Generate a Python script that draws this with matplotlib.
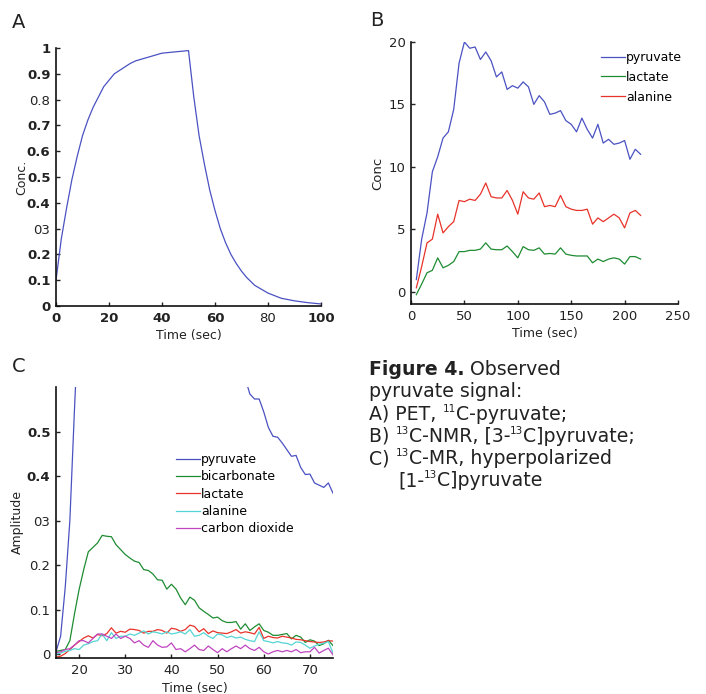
import numpy as np
import matplotlib
matplotlib.use('Agg')
import matplotlib.pyplot as plt

# ---- panel A: PET, 11C-pyruvate
t_a = [0, 2, 4, 6, 8, 10, 12, 14, 16, 18, 20, 22, 25, 28, 30, 35, 40, 45, 50,
       52, 54, 56, 58, 60, 62, 64, 66, 68, 70, 72, 75, 80, 85, 90, 95, 100]
conc_a = [0.1, 0.26, 0.38, 0.49, 0.58, 0.66, 0.72, 0.77, 0.81, 0.85, 0.875, 0.9,
          0.92, 0.94, 0.95, 0.965, 0.98, 0.985, 0.99,
          0.81, 0.66, 0.55, 0.45, 0.37, 0.30, 0.245, 0.2, 0.165, 0.135, 0.11,
          0.08, 0.05, 0.03, 0.02, 0.013, 0.008]

# ---- panel B: 13C-NMR
t_b = list(range(5, 216, 5))
pyr_b = [0.96, 4.2, 6.3, 9.6, 10.8, 12.3, 12.8, 14.6, 18.3, 20.0, 19.5, 19.6,
         18.6, 19.2, 18.5, 17.2, 17.6, 16.2, 16.5, 16.3, 16.8, 16.4, 15.0, 15.7,
         15.2, 14.2, 14.3, 14.5, 13.7, 13.4, 12.8, 13.9, 13.0, 12.3, 13.4, 11.9,
         12.2, 11.8, 11.9, 12.1, 10.6, 11.4, 11.0]
lac_b = [-0.25, 0.6, 1.5, 1.7, 2.7, 1.9, 2.1, 2.4, 3.2, 3.2, 3.3, 3.3, 3.4, 3.9,
         3.4, 3.35, 3.35, 3.65, 3.2, 2.7, 3.6, 3.35, 3.3, 3.5, 3.0, 3.05, 3.0,
         3.5, 3.0, 2.9, 2.85, 2.85, 2.85, 2.3, 2.6, 2.4, 2.6, 2.7, 2.6, 2.2, 2.8,
         2.8, 2.6]
ala_b = [0.3, 2.0, 3.9, 4.2, 6.2, 4.7, 5.2, 5.6, 7.3, 7.2, 7.4, 7.3, 7.8, 8.7,
         7.6, 7.5, 7.5, 8.1, 7.3, 6.2, 8.0, 7.5, 7.4, 7.9, 6.8, 6.9, 6.8, 7.7,
         6.8, 6.6, 6.5, 6.5, 6.6, 5.4, 5.9, 5.6, 5.9, 6.2, 5.9, 5.1, 6.3, 6.5,
         6.1]

# ---- panel C: hyperpolarized 13C-MR
t_c = list(range(15, 76))
pyr_c = [0.005, 0.04, 0.15, 0.3, 0.55, 0.78, 1.0, 1.2, 1.35, 1.45, 1.5, 1.48,
         1.45, 1.4, 1.35, 1.3, 1.26, 1.22, 1.18, 1.14, 1.1, 1.06, 1.02, 0.99,
         0.96, 0.93, 0.9, 0.88, 0.85, 0.83, 0.81, 0.79, 0.77, 0.75, 0.73, 0.71,
         0.69, 0.67, 0.65, 0.64, 0.63, 0.62, 0.585, 0.574, 0.574, 0.545, 0.51,
         0.49, 0.488, 0.475, 0.46, 0.445, 0.447, 0.42, 0.404, 0.405, 0.385,
         0.38, 0.375, 0.385, 0.362]
bic_c = [0.006, 0.008, 0.01, 0.03, 0.09, 0.145, 0.19, 0.23, 0.24, 0.25, 0.267,
         0.265, 0.264, 0.246, 0.235, 0.224, 0.216, 0.209, 0.206, 0.19, 0.188,
         0.18, 0.167, 0.166, 0.146, 0.157, 0.146, 0.126, 0.111, 0.128, 0.121,
         0.104, 0.096, 0.089, 0.081, 0.083, 0.075, 0.071, 0.071, 0.073, 0.056,
         0.068, 0.053, 0.061, 0.068, 0.053, 0.049, 0.042, 0.042, 0.044, 0.046,
         0.034, 0.042, 0.038, 0.026, 0.032, 0.029, 0.019, 0.023, 0.031, 0.019]
lac_c = [-0.007, -0.005, 0.001, 0.01, 0.02, 0.028, 0.036, 0.041, 0.036, 0.044,
         0.041, 0.046, 0.059, 0.047, 0.051, 0.049, 0.056, 0.055, 0.053, 0.047,
         0.051, 0.051, 0.055, 0.053, 0.047, 0.058, 0.056, 0.051, 0.055, 0.065,
         0.062, 0.05, 0.057, 0.046, 0.052, 0.048, 0.047, 0.046, 0.05, 0.055,
         0.047, 0.05, 0.048, 0.045, 0.06, 0.035, 0.04, 0.037, 0.036, 0.04,
         0.038, 0.036, 0.033, 0.032, 0.03, 0.028, 0.027, 0.026, 0.027, 0.03,
         0.029]
ala_c = [0.0, 0.002, 0.006, 0.008, 0.012, 0.01, 0.02, 0.023, 0.028, 0.03, 0.045,
         0.03, 0.048, 0.035, 0.04, 0.04, 0.045, 0.042, 0.047, 0.052, 0.045,
         0.05, 0.048, 0.045, 0.05, 0.045, 0.047, 0.05, 0.045, 0.055, 0.04,
         0.042, 0.048, 0.04, 0.035, 0.045, 0.043, 0.037, 0.04, 0.036, 0.038,
         0.033, 0.03, 0.028, 0.05, 0.03, 0.028, 0.025, 0.028, 0.025, 0.024,
         0.02, 0.027, 0.026, 0.02, 0.013, 0.018, 0.022, 0.024, 0.028, 0.002]
co2_c = [0.003, 0.005, 0.01, 0.012, 0.02, 0.03, 0.03, 0.025, 0.035, 0.045,
         0.045, 0.04, 0.035, 0.045, 0.035, 0.04, 0.035, 0.025, 0.03, 0.02,
         0.015, 0.03, 0.02, 0.015, 0.016, 0.025, 0.01, 0.012, 0.005, 0.012,
         0.02, 0.01, 0.008, 0.018, 0.01, 0.003, 0.012, 0.005, 0.012, 0.018,
         0.012, 0.02, 0.012, 0.008, 0.015, 0.005, 0.0, 0.005, 0.008, 0.005,
         0.008, 0.005, 0.01, 0.003, 0.005, 0.005, 0.015, 0.002, 0.008, 0.013,
         -0.002]

# caption lines: (text, is_superscript, is_bold) pieces
caption = [
    [('Figure 4.', 0, 1), (' Observed', 0, 0)],
    [('pyruvate signal:', 0, 0)],
    [('A) PET, ', 0, 0), ('11', 1, 0), ('C-pyruvate;', 0, 0)],
    [('B) ', 0, 0), ('13', 1, 0), ('C-NMR, [3-', 0, 0), ('13', 1, 0),
     ('C]pyruvate;', 0, 0)],
    [('C) ', 0, 0), ('13', 1, 0), ('C-MR, hyperpolarized', 0, 0)],
    [('[1-', 0, 0), ('13', 1, 0), ('C]pyruvate', 0, 0)],
]

BLUE = '#4a52c2'
GREEN = '#1e8c32'
RED = '#e8332a'
CYAN = '#55d4d4'
MAGENTA = '#c045c0'
TXT = '#222222'

plt.rcParams['font.family'] = ['DejaVu Sans']

fig = plt.figure(figsize=(7.06, 6.94), dpi=100)
W, H = 706, 694


def style(ax):
    for s in ['top', 'right']:
        ax.spines[s].set_visible(False)
    for s in ['left', 'bottom']:
        ax.spines[s].set_linewidth(1.2)
        ax.spines[s].set_color('#111111')
    ax.tick_params(direction='in', length=3, width=1, labelsize=9.5,
                   colors=TXT, pad=4)


# ---------------- A
axA = fig.add_axes([56 / W, 1 - 306 / H, 265 / W, 258 / H])
axA.plot(t_a, conc_a, color=BLUE, lw=0.9)
axA.set_xlim(0, 100)
axA.set_ylim(0, 1)
axA.set_xticks([0, 20, 40, 60, 80, 100])
axA.set_yticks(np.arange(0, 1.01, 0.1))
axA.set_yticklabels(['0', '0.1', '0.2', '03', '0.4', '0.5', '0.6', '0.7', '0.8',
                     '0.9', '1'])
style(axA)
for lab in axA.get_yticklabels():
    if lab.get_text() not in ('0.8', '03'):
        lab.set_fontweight('bold')
for lab in axA.get_xticklabels():
    if lab.get_text() != '80':
        lab.set_fontweight('bold')
axA.set_xlabel('Time (sec)', fontsize=9, color=TXT, labelpad=3)
axA.set_ylabel('Conc.', fontsize=9, color=TXT, labelpad=-1)

# ---------------- B
axB = fig.add_axes([411 / W, 1 - 304 / H, 267 / W, 262 / H])
axB.plot(t_b, pyr_b, color=BLUE, lw=0.9, label='pyruvate')
axB.plot(t_b, lac_b, color=GREEN, lw=0.9, label='lactate')
axB.plot(t_b, ala_b, color=RED, lw=0.9, label='alanine')
axB.set_xlim(0, 250)
axB.set_ylim(-1, 20)
axB.set_xticks([0, 50, 100, 150, 200, 250])
axB.set_yticks([0, 5, 10, 15, 20])
style(axB)
axB.set_xlabel('Time (sec)', fontsize=9, color=TXT, labelpad=3)
axB.set_ylabel('Conc', fontsize=9.5, color=TXT, labelpad=3)
axB.legend(loc='upper right', bbox_to_anchor=(1.035, 0.985), frameon=False,
           fontsize=9, handlelength=1.9, handletextpad=0.1, labelspacing=0.55,
           borderaxespad=0)

# ---------------- C
axC = fig.add_axes([56 / W, 1 - 658 / H, 277 / W, 271 / H])
axC.plot(t_c, pyr_c, color=BLUE, lw=0.9, label='pyruvate')
axC.plot(t_c, bic_c, color=GREEN, lw=0.9, label='bicarbonate')
axC.plot(t_c, lac_c, color=RED, lw=0.9, label='lactate')
axC.plot(t_c, ala_c, color=CYAN, lw=0.9, label='alanine')
axC.plot(t_c, co2_c, color=MAGENTA, lw=0.9, label='carbon dioxide')
axC.set_xlim(15, 75)
axC.set_ylim(-0.009, 0.601)
axC.set_xticks([20, 30, 40, 50, 60, 70])
axC.set_yticks([0, 0.1, 0.2, 0.3, 0.4, 0.5])
axC.set_yticklabels(['0', '0.1', '0.2', '03', '0.4', '0.5'])
style(axC)
for lab in axC.get_yticklabels():
    if lab.get_text() in ('0.4', '0.5'):
        lab.set_fontweight('bold')
axC.set_xlabel('Time (sec)', fontsize=9, color=TXT, labelpad=4)
axC.set_ylabel('Amplitude', fontsize=9, color=TXT, labelpad=2)
axC.legend(loc='upper left', bbox_to_anchor=(0.415, 0.775), frameon=False,
           fontsize=9, handlelength=1.9, handletextpad=0.1, labelspacing=0.35,
           borderaxespad=0)

# panel letters
fig.text(12 / W, 1 - 22 / H, 'A', fontsize=14, color=TXT, va='center')
fig.text(370 / W, 1 - 20 / H, 'B', fontsize=14, color=TXT, va='center')
fig.text(12 / W, 1 - 366 / H, 'C', fontsize=14, color=TXT, va='center')

# caption, drawn piece by piece so the superscripts can be small
renderer = fig.canvas.get_renderer()
fs = 13.6
for i, pieces in enumerate(caption):
    x = 398 if i == 5 else 369
    y = 370 + i * 22.3 + 5          # baseline in pixels from top
    for txt, is_sup, is_bold in pieces:
        size = fs * 0.55 if is_sup else fs
        yy = y - 8 if is_sup else y
        t = fig.text(x / W, 1 - yy / H, txt, fontsize=size, color=TXT,
                     va='baseline', fontweight='bold' if is_bold else 'normal')
        x += t.get_window_extent(renderer).width

fig.savefig('out.png', dpi=100)
